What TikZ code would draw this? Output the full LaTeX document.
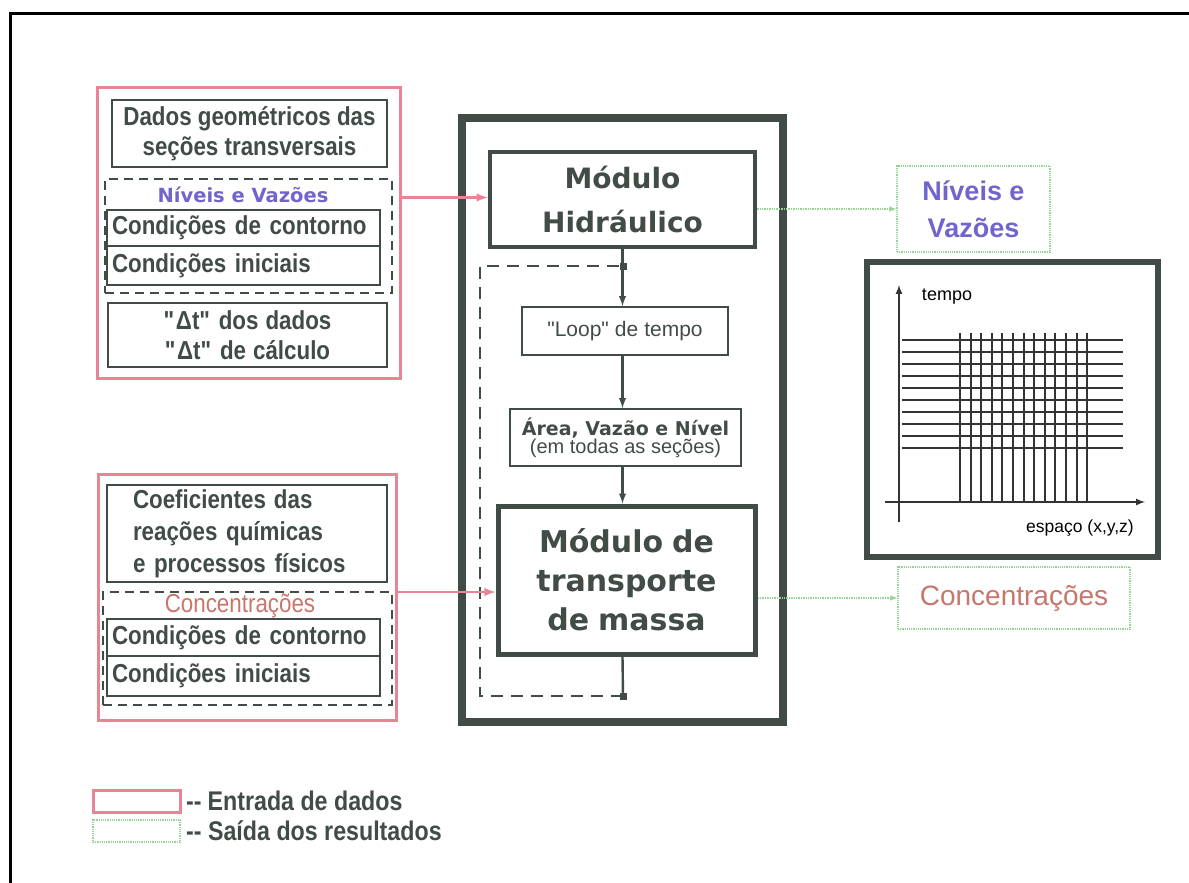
\documentclass[tikz,border=0pt]{standalone}
\usepackage{fontspec}
\setmainfont{Liberation Sans}
\newfontfamily\narrowfont{Liberation Sans}[FakeStretch=0.86]
\newfontfamily\widefont{DejaVu Sans}
\usetikzlibrary{arrows}
\definecolor{inkgray}{RGB}{66,76,70}
\definecolor{entrada}{RGB}{232,132,148}
\definecolor{saida}{RGB}{150,212,150}
\definecolor{roxo}{RGB}{112,100,205}
\definecolor{salmao}{RGB}{200,118,108}
\newcommand{\tam}[2]{\fontsize{#1}{#2}\selectfont}
\tikzstyle{entrybox} = [rectangle, draw=entrada, line width=3pt, inner sep=0pt]
\tikzstyle{databox} = [rectangle, draw=inkgray, line width=1.8pt, inner sep=0pt, text=inkgray, align=center, font=\narrowfont\bfseries\tam{26}{30}]
\tikzstyle{rowbox} = [databox, minimum width=273pt, text width=263pt, align=left]
\tikzstyle{groupbox} = [rectangle, draw=inkgray, line width=1.5pt, dash pattern=on 9pt off 6pt, inner sep=0pt]
\tikzstyle{modulebox} = [rectangle, draw=inkgray, line width=4.5pt, inner sep=0pt, text=inkgray, align=center, font=\widefont\bfseries]
\tikzstyle{stepbox} = [rectangle, draw=inkgray, line width=2pt, inner sep=0pt, text=inkgray, align=center]
\tikzstyle{outbox} = [rectangle, draw=saida, line width=1.2pt, densely dotted, inner sep=0pt, align=center]
\tikzstyle{arrow} = [->, >=latex, line width=2.4pt, draw=inkgray]
\tikzstyle{inarrow} = [->, >=latex, line width=2.8pt, draw=entrada]
\tikzstyle{outarrow} = [->, >=latex, line width=1.4pt, draw=saida, densely dotted]
\tikzstyle{gridline} = [line width=2pt, draw=black!80]

\begin{document}
\begin{tikzpicture}[x=1pt, y=-1pt]
            \useasboundingbox (0,0) rectangle (1189,883);
            \draw [line width=3pt] (10,883) -- (10,14) -- (1189,14);
            % entrada: modulo hidraulico
            \node [entrybox, minimum width=303pt, minimum height=290pt] at (249,233) (geoin) {};
            \node [databox, minimum width=275pt, minimum height=67pt] at (249.5,133.5) (dados) {Dados geométricos das\\seções transversais};
            \node [groupbox, minimum width=287pt, minimum height=114pt] at (248.5,236) (nivdash) {};
            \node [text=roxo, font=\widefont\bfseries\tam{19.5}{22}] at (243,195) (nivlabel) {Níveis e Vazões};
            \node [rowbox, minimum height=36pt] at (243.5,228) (contorno1) {Condições de contorno};
            \node [rowbox, minimum height=39pt] at (243.5,265.5) (iniciais1) {Condições iniciais};
            \node [databox, minimum width=279pt, minimum height=64pt] at (247.5,335) (deltat) {\textquotedbl Δt\textquotedbl\hspace{7pt}dos\hspace{7pt}dados\\\textquotedbl Δt\textquotedbl\hspace{7pt}de\hspace{7pt}cálculo};
            % entrada: modulo de transporte
            \node [entrybox, minimum width=298pt, minimum height=246pt] at (247,597) (conin) {};
            \node [databox, minimum width=280pt, minimum height=97pt, text width=228pt, align=left, font=\narrowfont\bfseries\tam{26}{32}] at (247,533.5) (coef) {Coeficientes\hspace{8pt}das\\reações químicas\\e processos físicos};
            \node [groupbox, minimum width=289pt, minimum height=113pt] at (247.5,648.5) (concdash) {};
            \node [text=salmao, font=\narrowfont\tam{26}{30}] at (240,606) (conclabel) {Concentrações};
            \node [rowbox, minimum height=37pt] at (243.5,637.5) (contorno2) {Condições de contorno};
            \node [rowbox, minimum height=40pt] at (243.5,676) (iniciais2) {Condições iniciais};
            % modelo
            \node [rectangle, draw=inkgray, line width=8pt, minimum width=321pt, minimum height=604pt] at (622.5,420) (centro) {};
            \node [modulebox, minimum width=265pt, minimum height=95pt, font=\widefont\bfseries\tam{28}{44}] at (622.5,199.5) (hidr) {Módulo\\Hidráulico};
            \node [stepbox, minimum width=206pt, minimum height=48pt, font=\tam{21}{24}] at (625,331) (loop) {\textquotedbl Loop\textquotedbl\hspace{6pt}de\hspace{6pt}tempo};
            \node [stepbox, minimum width=231pt, minimum height=57pt] at (625.5,437.5) (area) {{\widefont\bfseries\tam{19}{22}Área, Vazão e Nível}\\{\tam{20}{22}(em todas as seções)}};
            \node [modulebox, line width=5pt, minimum width=257pt, minimum height=148pt, font=\widefont\bfseries\tam{30}{39}] at (626.5,580) (transp) {Módulo\hspace{9pt}de\\transporte\\de\hspace{9pt}massa};
            \coordinate (laco1) at (623,266);
            \coordinate (laco2) at (623,696);
            \draw [arrow] (hidr.south) -- (hidr.south |- loop.north);
            \draw [arrow] (hidr.south |- loop.south) -- (hidr.south |- area.north);
            \draw [arrow] (hidr.south |- area.south) -- (hidr.south |- transp.north);
            \draw [line width=2.4pt, draw=inkgray] (hidr.south |- transp.south) -- (laco2);
            \draw [line width=1.6pt, draw=inkgray, dash pattern=on 12pt off 8pt] (laco2) -- ++(-143,0) |- (laco1);
            \fill [inkgray] ([xshift=-3.5pt,yshift=-3.5pt]laco1) rectangle ([xshift=3.5pt,yshift=3.5pt]laco1);
            \fill [inkgray] ([xshift=-3.5pt,yshift=-3.5pt]laco2) rectangle ([xshift=3.5pt,yshift=3.5pt]laco2);
            \draw [inarrow] ([yshift=2pt]geoin.east |- hidr.west) -- ([yshift=2pt]hidr.west);
            \draw [inarrow] ([yshift=-12pt]conin.east |- transp.west) -- ([yshift=-12pt]transp.west);
            % saidas
            \node [outbox, minimum width=153pt, minimum height=86pt, text=roxo, font=\bfseries\tam{27}{37}] at (973.5,209) (nivout) {Níveis e\\Vazões\hspace{4pt}};
            \node [outbox, minimum width=232pt, minimum height=62pt, text=salmao, font=\tam{28}{30}] at (1014,598) (concout) {Concentrações};
            \draw [outarrow] (hidr.east |- nivout.west) -- (nivout.west);
            \draw [outarrow] (transp.east |- concout.west) -- (concout.west);
            % malha espaco x tempo
            \node [rectangle, draw=inkgray, line width=6pt, minimum width=291pt, minimum height=295pt] at (1012.5,409.5) (grade) {};
            \foreach \i in {0,...,9}
                \draw [gridline] (902,{340+12*\i}) -- (1123,{340+12*\i});
            \foreach \i in {0,...,12}
                \draw [gridline] ({960+10.6*\i},333) -- ({960+10.6*\i},502);
            \draw [gridline, -latex] (899,522) -- (899,285);
            \draw [gridline, -latex] (885,502) -- (1145,502);
            \node [font=\tam{18}{20}] at (947,297) (tempo) {tempo};
            \node [font=\tam{17.5}{20}] at (1080,528) (espaco) {espaço (x,y,z)};
            % legenda
            \node [entrybox, minimum width=87pt, minimum height=22pt] at (136.5,801) (legin) {};
            \node [anchor=west, text=inkgray, font=\narrowfont\bfseries\tam{27}{30}, inner sep=0pt] at (186,801) (legintxt) {-{}-\hspace{6pt}Entrada de dados};
            \node [outbox, minimum width=87pt, minimum height=22pt] at (136.5,831) (legout) {};
            \node [anchor=west, text=inkgray, font=\narrowfont\bfseries\tam{27}{30}, inner sep=0pt] at (186,831) (legouttxt) {-{}- Saída dos resultados};
\end{tikzpicture}
\end{document}
